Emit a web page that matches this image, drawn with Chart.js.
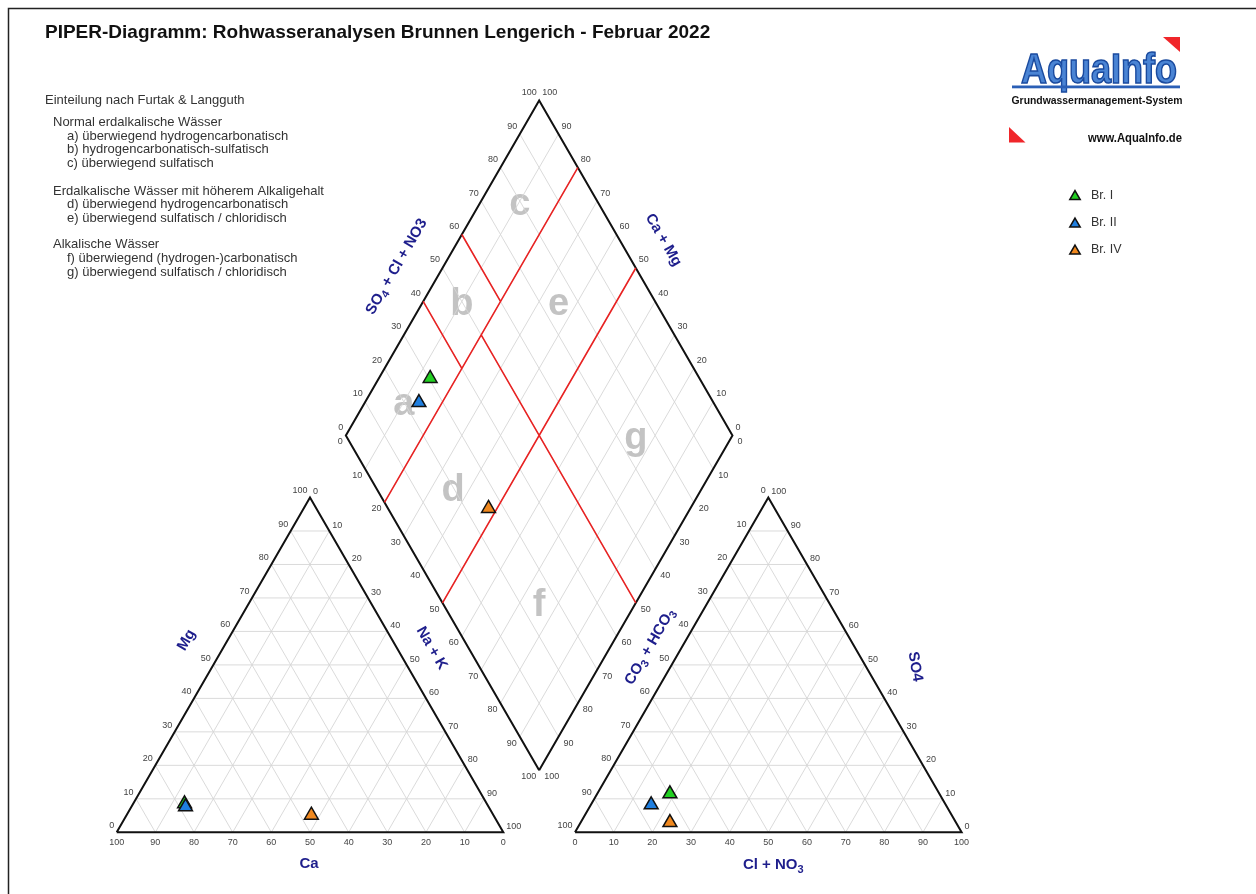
<!DOCTYPE html>
<html>
<head>
<meta charset="utf-8">
<title>PIPER-Diagramm</title>
<script src="https://cdn.jsdelivr.net/npm/chart.js@4.4.1/dist/chart.umd.min.js"></script>
<style>
  html, body { margin: 0; padding: 0; background: #fff; }
  canvas { display: block; }
</style>
</head>
<body>
<canvas id="piper" width="1256" height="894"></canvas>
<script>
// ---- Data: ion shares in meq-% per well ----
var WELLS   = ["Br. I", "Br. II", "Br. IV"];
var COLORS  = ["#22d022", "#1f7fe0", "#f0881e"];
var CA      = [78.2, 78.4, 47.1];
var MG      = [8.5, 7.6, 5.1];
var NA_K    = [13.3, 14.0, 47.8];
var HCO3    = [69.7, 76.2, 74.0];
var SO4     = [11.5, 8.2, 2.9];
var CL_NO3  = [18.8, 15.6, 23.1];

var TICKS = [0, 10, 20, 30, 40, 50, 60, 70, 80, 90, 100];
var GRID  = [10, 20, 30, 40, 50, 60, 70, 80, 90];

// Furtak & Langguth boundaries in the diamond: [a1, c1, a2, c2]
// a = SO4 + Cl + NO3 (%), c = Ca + Mg (%)
var FL_LINES = [
  [0, 80, 100, 80],
  [0, 50, 100, 50],
  [40, 100, 40, 80],
  [60, 100, 60, 80],
  [50, 80, 50, 0],
];
var FL_LETTERS = ["a", "b", "c", "d", "e", "f", "g"];
var FL_A = [20, 50, 80, 20, 75, 25, 75];
var FL_C = [90, 90, 90, 64.5, 65, 25, 25];

// ---- Geometry (unit = one triangle side) ----
var H = Math.sqrt(3) / 2;
var GAP = 0.1855;
var SIDE = 386.6;
var ORIGIN = [116.7, 832.3];
var X0 = 1 + GAP;
var W = 1256, HT = 894;
var FONT = "'Liberation Sans', Arial, sans-serif";

function cat(ca, mg, na) { return { x: na / 100 + mg / 200, y: mg / 100 * H }; }
function an(hco3, so4, cl) { return { x: X0 + cl / 100 + so4 / 200, y: so4 / 100 * H }; }
function dia(a, c) { return { x: 1 + GAP / 2 + (a - c) / 200, y: GAP * H + (a + c) / 100 * H }; }

function segs(list) {
  var out = [];
  list.forEach(function(s) { out.push(s[0], s[1], { x: null, y: null }); });
  return out;
}

var gridSegs = [];
GRID.forEach(function(t) {
  gridSegs.push([cat(100 - t, t, 0), cat(0, t, 100 - t)]);
  gridSegs.push([cat(t, 100 - t, 0), cat(t, 0, 100 - t)]);
  gridSegs.push([cat(100 - t, 0, t), cat(0, 100 - t, t)]);
  gridSegs.push([an(100 - t, t, 0), an(0, t, 100 - t)]);
  gridSegs.push([an(t, 100 - t, 0), an(t, 0, 100 - t)]);
  gridSegs.push([an(100 - t, 0, t), an(0, 100 - t, t)]);
  gridSegs.push([dia(t, 0), dia(t, 100)]);
  gridSegs.push([dia(0, t), dia(100, t)]);
});

var outline = [
  cat(100, 0, 0), cat(0, 0, 100), cat(0, 100, 0), cat(100, 0, 0), { x: null, y: null },
  an(100, 0, 0), an(0, 0, 100), an(0, 100, 0), an(100, 0, 0), { x: null, y: null },
  dia(0, 0), dia(100, 0), dia(100, 100), dia(0, 100), dia(0, 0),
];

var redSegs = FL_LINES.map(function(l) { return [dia(l[0], l[1]), dia(l[2], l[3])]; });

var lineBase = { showLine: true, pointRadius: 0, pointHoverRadius: 0, fill: false, spanGaps: false };

var datasets = [];
WELLS.forEach(function(name, i) {
  datasets.push({
    label: name,
    data: [
      cat(CA[i], MG[i], NA_K[i]),
      an(HCO3[i], SO4[i], CL_NO3[i]),
      dia(SO4[i] + CL_NO3[i], CA[i] + MG[i]),
    ],
    pointStyle: "triangle",
    pointRadius: 8,
    pointHoverRadius: 8,
    backgroundColor: COLORS[i],
    borderColor: "#111",
    borderWidth: 1.5,
    showLine: false,
    order: 0.3 - i * 0.1,   // later wells drawn on top
  });
});
datasets.push(Object.assign({ data: segs(redSegs), borderColor: "#e82222", borderWidth: 1.6, order: 1 }, lineBase));
datasets.push(Object.assign({ data: outline, borderColor: "#111", borderWidth: 2, borderJoinStyle: "miter", order: 2 }, lineBase));
datasets.push(Object.assign({ data: segs(gridSegs), borderColor: "#d6d6d6", borderWidth: 0.9, order: 3 }, lineBase));

// ---- Text helpers ----
function px(chart, p) {
  return [chart.scales.x.getPixelForValue(p.x), chart.scales.y.getPixelForValue(p.y)];
}

function tick(ctx, chart, p, txt, dx, dy, align) {
  var q = px(chart, p);
  ctx.textAlign = align;
  ctx.fillText(txt, q[0] + dx, q[1] + dy);
}

function richText(ctx, parts, x, y, angle, size, color) {
  ctx.save();
  ctx.translate(x, y);
  ctx.rotate(angle * Math.PI / 180);
  ctx.fillStyle = color;
  ctx.textBaseline = "middle";
  ctx.textAlign = "left";
  var big = "bold " + size + "px " + FONT;
  var small = "bold " + Math.round(size * 0.75) + "px " + FONT;
  var w = 0;
  parts.forEach(function(p) { ctx.font = p[1] ? small : big; w += ctx.measureText(p[0]).width; });
  var cx = -w / 2;
  parts.forEach(function(p) {
    ctx.font = p[1] ? small : big;
    ctx.fillText(p[0], cx, p[1] ? size * 0.3 : 0);
    cx += ctx.measureText(p[0]).width;
  });
  ctx.restore();
}

var regionPlugin = {
  id: "regions",
  beforeDatasetsDraw: function(chart) {
    var ctx = chart.ctx;
    ctx.save();
    ctx.font = "bold 38px " + FONT;
    ctx.fillStyle = "#c3c3c3";
    ctx.textAlign = "center";
    ctx.textBaseline = "middle";
    FL_LETTERS.forEach(function(l, i) {
      var q = px(chart, dia(FL_A[i], FL_C[i]));
      ctx.fillText(l, q[0], q[1] + 3);
    });
    ctx.restore();
  },
};

var decorPlugin = {
  id: "decor",
  afterDatasetsDraw: function(chart) {
    var ctx = chart.ctx;
    ctx.save();

    // frame
    ctx.strokeStyle = "#222";
    ctx.lineWidth = 1.5;
    ctx.beginPath();
    ctx.moveTo(8.5, HT);
    ctx.lineTo(8.5, 8.5);
    ctx.lineTo(W, 8.5);
    ctx.stroke();

    // title
    ctx.fillStyle = "#111";
    ctx.font = "bold 19px " + FONT;
    ctx.textAlign = "left";
    ctx.textBaseline = "middle";
    ctx.fillText("PIPER-Diagramm: Rohwasseranalysen Brunnen Lengerich - Februar 2022", 45, 33);

    // classification notes
    ctx.fillStyle = "#333";
    ctx.font = "13px " + FONT;
    var notes = [
      [45, 100, "Einteilung nach Furtak & Langguth"],
      [53, 122.5, "Normal erdalkalische Wässer"],
      [67, 136, "a) überwiegend hydrogencarbonatisch"],
      [67, 149.5, "b) hydrogencarbonatisch-sulfatisch"],
      [67, 163, "c) überwiegend sulfatisch"],
      [53, 191, "Erdalkalische Wässer mit höherem Alkaligehalt"],
      [67, 204.5, "d) überwiegend hydrogencarbonatisch"],
      [67, 218.5, "e) überwiegend sulfatisch / chloridisch"],
      [53, 244.5, "Alkalische Wässer"],
      [67, 258.5, "f) überwiegend (hydrogen-)carbonatisch"],
      [67, 272.5, "g) überwiegend sulfatisch / chloridisch"],
    ];
    notes.forEach(function(n) { ctx.fillText(n[2], n[0], n[1]); });

    // logo
    ctx.font = "bold 42px " + FONT;
    ctx.textBaseline = "alphabetic";
    ctx.fillStyle = "#4a84d4";
    ctx.strokeStyle = "#1a4a9e";
    ctx.lineWidth = 1.6;
    ctx.fillText("AquaInfo", 1021, 83, 156);
    ctx.strokeText("AquaInfo", 1021, 83, 156);
    ctx.fillStyle = "#2a5fb6";
    ctx.fillRect(1012, 85.5, 168, 2.8);
    ctx.fillStyle = "#111";
    ctx.font = "bold 11px " + FONT;
    ctx.textBaseline = "middle";
    ctx.fillText("Grundwassermanagement-System", 1011.5, 100.5, 171);
    ctx.font = "bold 12px " + FONT;
    ctx.fillText("www.AquaInfo.de", 1088, 138.5, 94);
    ctx.fillStyle = "#f0262a";
    ctx.beginPath();
    ctx.moveTo(1163, 37); ctx.lineTo(1180, 37); ctx.lineTo(1180, 52); ctx.closePath(); ctx.fill();
    ctx.beginPath();
    ctx.moveTo(1009, 127); ctx.lineTo(1009, 142.5); ctx.lineTo(1025.5, 142.5); ctx.closePath(); ctx.fill();

    // legend
    var ly = [195.5, 223, 250];
    WELLS.forEach(function(name, i) {
      var x = 1075, y = ly[i] + 1, r = 6;
      ctx.beginPath();
      ctx.moveTo(x, y - r);
      ctx.lineTo(x + r * H, y + r / 2);
      ctx.lineTo(x - r * H, y + r / 2);
      ctx.closePath();
      ctx.fillStyle = COLORS[i];
      ctx.fill();
      ctx.strokeStyle = "#111";
      ctx.lineWidth = 1.5;
      ctx.stroke();
      ctx.fillStyle = "#333";
      ctx.font = "12.5px " + FONT;
      ctx.textAlign = "left";
      ctx.fillText(name, 1091, ly[i]);
    });

    // tick labels
    ctx.fillStyle = "#444";
    ctx.font = "9px " + FONT;
    ctx.textBaseline = "middle";
    TICKS.forEach(function(v) {
      var s = String(v);
      // cation triangle
      tick(ctx, chart, cat(v, 0, 100 - v), s, 0, 10, "center");
      tick(ctx, chart, cat(100 - v, v, 0), s, -2.5, -6.5, "right");
      tick(ctx, chart, cat(0, 100 - v, v), s, 3, -5.5, "left");
      // anion triangle
      tick(ctx, chart, an(100 - v, 0, v), s, 0, 10, "center");
      tick(ctx, chart, an(v, 100 - v, 0), s, -2.5, -6.5, "right");
      tick(ctx, chart, an(0, v, 100 - v), s, 3, -5.5, "left");
      // diamond
      tick(ctx, chart, dia(v, 100), s, -2.5, -8, "right");
      tick(ctx, chart, dia(100, v), s, 3, -8, "left");
      tick(ctx, chart, dia(0, 100 - v), s, -3, 6.5, "right");
      tick(ctx, chart, dia(100 - v, 0), s, 5, 6.5, "left");
    });

    // axis titles
    var navy = "#1e1e8c";
    var titles = [
      [[["Mg", 0]], 0.1805, 0.4974, -60],
      [[["Ca", 0]], 0.4974, -0.0817, 0],
      [[["Na + K", 0]], 0.8148, 0.476, 60],
      [[["CO", 0], ["3", 1], [" + HCO", 0], ["3", 1]], 1.3795, 0.480, -60],
      [[["SO4", 0]], 2.0651, 0.4284, 80],
      [[["Cl + NO", 0], ["3", 1]], 1.6984, -0.0846, 0],
      [[["SO", 0], ["4", 1], [" + Cl + NO3", 0]], 0.7243, 1.463, -60],
      [[["Ca + Mg", 0]], 1.4139, 1.532, 60],
    ];
    titles.forEach(function(t) {
      var q = px(chart, { x: t[1], y: t[2] });
      richText(ctx, t[0], q[0], q[1], t[3], 15, navy);
    });

    ctx.restore();
  },
};

new Chart(document.getElementById("piper"), {
  type: "scatter",
  data: { datasets: datasets },
  options: {
    responsive: false,
    animation: false,
    events: [],
    layout: { padding: 0, autoPadding: false },
    plugins: {
      legend: { display: false },
      tooltip: { enabled: false },
    },
    scales: {
      x: { type: "linear", display: false, min: -ORIGIN[0] / SIDE, max: (W - ORIGIN[0]) / SIDE },
      y: { type: "linear", display: false, min: -(HT - ORIGIN[1]) / SIDE, max: ORIGIN[1] / SIDE },
    },
  },
  plugins: [regionPlugin, decorPlugin],
});
</script>
</body>
</html>
